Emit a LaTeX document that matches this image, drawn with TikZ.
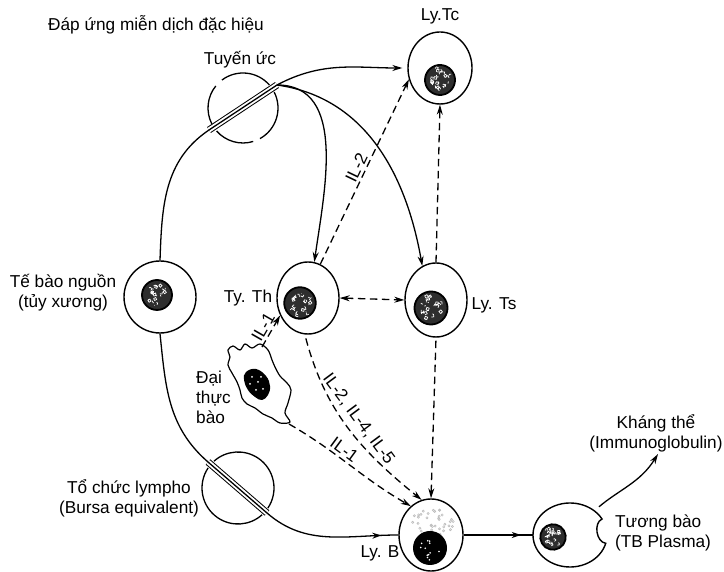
\documentclass[tikz,border=0pt]{standalone}
\usepackage{fontspec}
\setmainfont{Liberation Sans}
\usetikzlibrary{arrows.meta,shapes.geometric,positioning,decorations.markings}
\definecolor{ChromClr}{rgb}{0.18,0.18,0.18}
\definecolor{SpeckClr}{rgb}{0.74,0.74,0.74}

\tikzset{
  lbl/.style={font=\fontsize{17.3}{20}\selectfont,inner sep=1bp},
  il/.style={lbl,sloped,above,inner sep=2.5bp},
  cell/.style={draw,ellipse,line width=1.4bp,inner sep=0pt,minimum width=62bp,minimum height=72bp},
  route/.style={line width=1.3bp},
  link/.style={route,-{Stealth[length=10bp,width=6bp]}},
  signal/.style={link,dash pattern=on 7.5bp off 4.5bp},
  band/.style={line width=1bp,double distance=5bp},
  midtip/.style={route,postaction={decorate},
    decoration={markings,mark=at position #1 with {\arrow{Stealth[length=9bp,width=6bp]}}}},
  nucleus/.pic={
    \fill[ChromClr] (0,0) circle (15);
    \foreach \k in {1,...,24}
      \draw[white,line width=.7bp] ({rnd*360}:{sqrt(rnd)*11}) arc[start angle={rnd*360},delta angle=200,radius=1.6];
    \draw[line width=1.8bp] (0,0) circle (15);
  }
}

\begin{document}
\begin{tikzpicture}[x=1bp,y=1bp]
\useasboundingbox (0,0) rectangle (724,572);
\pgfmathsetseed{4271}

% Define the cells.
\node[cell,minimum width=72bp] (Stem) at (160,275) {};
\node[cell] (Th) at (308,274) {};
\node[cell,minimum height=74bp] (Ts) at (436,272) {};
\node[cell,minimum width=64bp] (Tc) at (440,504) {};
\node[cell,minimum width=64bp] (B) at (431,37) {};
\node[ellipse,minimum width=74bp,minimum height=64bp,inner sep=0pt] (Plasma) at (570,37) {};

% Nuclei.
\pic at (157,277) {nucleus};
\pic[rotate=40,scale=1.05] at (300,269) {nucleus};
\pic[rotate=110,scale=1.1] at (431,264) {nucleus};
\pic[rotate=200] at (440,492) {nucleus};
\pic[rotate=300,scale=.85] at (553,35) {nucleus};

% Ly. B: pale speckles above a dark nucleus.
\begin{scope}[shift={(431,50)}]
  \foreach \k in {1,...,40}
    \draw[SpeckClr,line width=.6bp] ({rnd*360}:{sqrt(rnd)*24} and {sqrt(rnd)*15}) circle (1.1);
\end{scope}
\fill (430,24) circle (17);
\begin{scope}[shift={(430,24)}]
  \foreach \k in {1,...,12}
    \fill[white] ({rnd*360}:{sqrt(rnd)*12}) circle (.9);
\end{scope}

% The plasma cell, with its notch on the right.
\draw[line width=1.4bp] (Plasma.center) ++(30:37 and 32)
  arc[start angle=30,end angle=345,x radius=37,y radius=32] to[bend left=75] cycle;

% Macrophage.
\draw[line width=1.2bp] plot[smooth cycle,tension=.55] coordinates {
  (228,222) (233,226) (240,222) (245,228) (252,224) (260,228) (268,222)
  (272,212) (275,205) (280,196) (287,189) (291,182) (288,169) (285,159)
  (290,150) (280,149) (272,154) (263,158) (255,164) (247,168) (242,174)
  (240,182) (237,190) (232,199) (228,207) (230,215)};
\fill plot[smooth cycle,tension=.7] coordinates {
  (246,200) (256,203) (266,196) (270,186) (268,177) (262,172) (255,175) (248,182) (244,192)};
\foreach \p in {(252,195),(258,190),(263,183),(256,182),(261,195),(250,188)}
  \fill[white] \p circle (1);
\coordinate (MacTop) at (262,225);
\coordinate (MacLow) at (289,148);

% Thymus, cut across by the band.
\coordinate (Thy) at (243,464);
\coordinate (ThyIn) at (209,442);
\coordinate (ThyOut) at (277,487);
\draw[line width=1.3bp] (Thy) ++(41:35) arc[start angle=41,end angle=127,radius=35];
\draw[line width=1.3bp] (Thy) ++(141:35) arc[start angle=141,end angle=207,radius=35];
\draw[line width=1.3bp] (Thy) ++(221:35) arc[start angle=221,end angle=287,radius=35];
\draw[line width=1.3bp] (Thy) ++(299:35) arc[start angle=299,end angle=387,radius=35];
\draw[band] (ThyIn) -- (ThyOut);
\draw[route] (ThyIn) -- (ThyOut);

% Bursa equivalent, cut across by the band.
\coordinate (Bur) at (238,84);
\coordinate (BurIn) at (208,110);
\coordinate (BurOut) at (267,59);
\draw[line width=1.3bp] (Bur) ++(-34:36) arc[start angle=-34,end angle=132,radius=36];
\draw[line width=1.3bp] (Bur) ++(146:36) arc[start angle=146,end angle=312,radius=36];
\draw[band] (BurIn) -- (BurOut);
\draw[route] (BurIn) -- (BurOut);

% Cell routes.
\draw[route] (Stem.north) to[out=88,in=214] (ThyIn);
\draw[route] (Stem.south) to[out=-84,in=139] (BurIn);
\draw[link,shorten >=5bp] (ThyOut) to[out=28,in=180] (Tc.west);
\draw[link] (ThyOut) to[out=0,in=82] (Th.80);
\draw[link] (ThyOut) to[out=-8,in=100] (Ts.112);
\draw[midtip=-17bp] (BurOut) to[out=-41,in=180] (B.west);
\draw[midtip=-12bp] (B.east) -- (Plasma.west);
\coordinate (AbIn) at (658,118);
\draw[link,shorten <=6bp] (Plasma.45) to[out=40,in=238] (AbIn);

% Signals.
\draw[signal] (Th.70) -- (Tc.200) node[il,midway] (IL2) {IL-2};
\draw[signal] (Ts.north) -- (Tc.south);
\draw[signal,{Stealth[length=10bp,width=6bp]}-{Stealth[length=10bp,width=6bp]}] (Th.east) -- (Ts.west);
\draw[signal] (MacTop) -- (Th.212) node[il,midway] (IL1a) {IL-1};
\draw[signal,shorten <=4bp] (Th.265) to[out=-75,in=141]
  node[il,pos=.5,inner sep=5.5bp] (IL245) {IL-2, IL-4, IL-5} (B.105);
\draw[signal] (MacLow) to[out=-30,in=150] node[il,pos=.4] (IL1b) {IL-1} (B.125);
\draw[signal,shorten <=3bp] (Ts.south) -- (B.north);

% Labels.
\node[lbl] (Title) at (156,547) {Đáp ứng miễn dịch đặc hiệu};
\node[lbl] (ThyLbl) at (240,512) {Tuyến ức};
\node[lbl,align=center] (StemLbl) at (63,279) {Tế bào nguồn\\(tủy xương)};
\node[lbl,left=3bp of Th] (ThLbl) {Ty. Th};
\node[lbl] (TsLbl) at (494,267) {Ly. Ts};
\node[lbl,above=6bp of Tc] (TcLbl) {Ly.Tc};
\node[lbl] (BLbl) at (380,19) {Ly. B};
\node[lbl,align=left,anchor=west] (PlasmaLbl) at (614,39) {Tương bào\\(TB Plasma)};
\node[lbl,align=center] (Ab) at (656,139) {Kháng thể\\(Immunoglobulin)};
\node[lbl,align=center] (BurLbl) at (129,74) {Tổ chức lympho\\(Bursa equivalent)};
\node[lbl,align=left,anchor=west] (MacLbl) at (195,175) {Đại\\thực\\bào};

\end{tikzpicture}
\end{document}
